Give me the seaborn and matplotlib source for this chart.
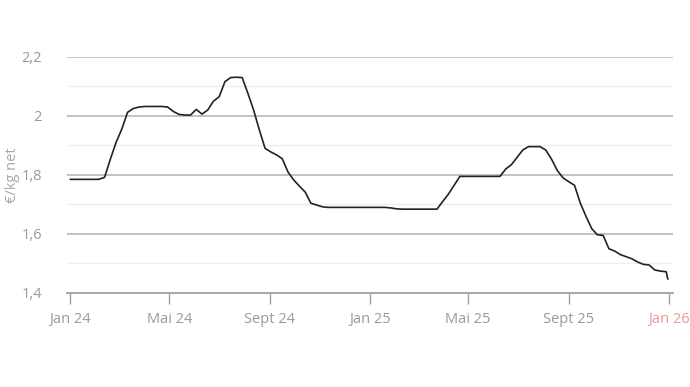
import matplotlib
matplotlib.use("Agg")
import matplotlib.pyplot as plt
import seaborn as sns
import pandas as pd

# weekly prices from Jan 1 2024, plus a final reading at Dec 31 2025
start_date = "2024-01-01"
final_date = "2025-12-31"
weekly_values = [
    1.785, 1.785, 1.785, 1.785, 1.785, 1.785, 1.792, 1.853, 1.910, 1.955,
    2.012, 2.025, 2.030, 2.032, 2.032, 2.032, 2.032, 2.030, 2.015, 2.005,
    2.003, 2.003, 2.022, 2.006, 2.020, 2.050, 2.065, 2.116, 2.130, 2.131,
    2.130, 2.077, 2.020, 1.953, 1.890, 1.878, 1.868, 1.855, 1.810, 1.783,
    1.762, 1.742, 1.704, 1.698, 1.692, 1.690, 1.690, 1.690, 1.690, 1.690,
    1.690, 1.690, 1.690, 1.690, 1.690, 1.690, 1.688, 1.685, 1.684, 1.684,
    1.684, 1.684, 1.684, 1.684, 1.684, 1.710, 1.735, 1.765, 1.795, 1.795,
    1.795, 1.795, 1.795, 1.795, 1.795, 1.795, 1.820, 1.835, 1.860, 1.885,
    1.896, 1.896, 1.896, 1.884, 1.853, 1.815, 1.790, 1.777, 1.765, 1.705,
    1.660, 1.618, 1.597, 1.595, 1.550, 1.542, 1.530, 1.523, 1.516, 1.505,
    1.497, 1.495, 1.478, 1.474, 1.472,
]
final_value = 1.447

tick_dates = ["2024-01-01", "2024-05-01", "2024-09-01", "2025-01-01",
              "2025-05-01", "2025-09-01", "2026-01-01"]
tick_labels = ["Jan 24", "Mai 24", "Sept 24", "Jan 25", "Mai 25", "Sept 25", "Jan 26"]
y_ticks = [1.4, 1.6, 1.8, 2.0, 2.2]
y_tick_labels = ["1,4", "1,6", "1,8", "2", "2,2"]
y_minor = [1.5, 1.7, 1.9, 2.1]

dates = list(pd.date_range(start_date, periods=len(weekly_values), freq="7D")) + [pd.Timestamp(final_date)]
values = weekly_values + [final_value]
df = pd.DataFrame({"date": dates, "price": values})

sns.set_theme(style="white")
plt.rcParams["font.family"] = ["Open Sans", "DejaVu Sans"]

fig = plt.figure(figsize=(6.9, 3.87), dpi=100)
ax = fig.add_axes([0.097, 0.243, 0.878, 0.61])

for y in y_minor:
    ax.axhline(y, color="#efefef", lw=1.0, zorder=0)
for y in y_ticks[1:]:
    ax.axhline(y, color="#bdbdbd", lw=1.3, zorder=0)

sns.lineplot(data=df, x="date", y="price", ax=ax, color="#222222", lw=1.2, zorder=3)

ax.set_ylim(1.4, 2.2)
ax.set_xlim(pd.Timestamp("2023-12-28"), pd.Timestamp("2026-01-06"))
ax.set_yticks(y_ticks)
ax.set_yticklabels(y_tick_labels)
ax.set_xticks([pd.Timestamp(d) for d in tick_dates])
ax.set_xticklabels(tick_labels)

for s in ["top", "right", "left"]:
    ax.spines[s].set_visible(False)
ax.spines["bottom"].set_color("#a0a0a0")
ax.spines["bottom"].set_linewidth(1.3)

ax.tick_params(axis="x", colors="#a0a0a0", length=8, width=1.0, labelsize=10.5,
               labelcolor="#9a9a9a", pad=6, direction="out", bottom=True)
ax.tick_params(axis="y", length=0, labelsize=10.5, labelcolor="#9a9a9a", pad=18)
ax.get_xticklabels()[-1].set_color("#e99a9a")

ax.set_xlabel("")
ax.set_ylabel("€/kg net", color="#a8a8a8", fontsize=10.5, labelpad=4)
ax.yaxis.set_label_coords(-0.077, 0.5)

fig.savefig("out.png", dpi=100, facecolor="white")
